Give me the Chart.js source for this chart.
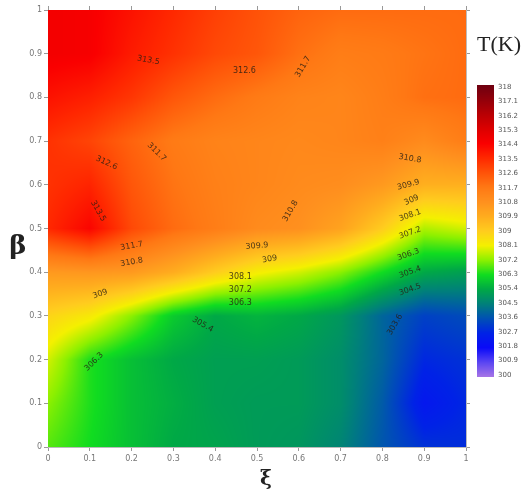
<!DOCTYPE html>
<html>
<head>
<meta charset="utf-8">
<script src="https://cdn.jsdelivr.net/npm/chart.js@4.4.1/dist/chart.umd.min.js"></script>
<style>
  html, body { margin: 0; padding: 0; background: #fff; }
  #wrap { width: 525px; height: 490px; position: relative; }
</style>
</head>
<body>
<div id="wrap"><canvas id="contourChart" width="525" height="490"></canvas></div>
<script>
// grid axes
const xiValues = [0, 0.1, 0.2, 0.3, 0.4, 0.5, 0.6, 0.7, 0.8, 0.9, 1];
const betaValues = [0, 0.1, 0.2, 0.3, 0.4, 0.5, 0.6, 0.7, 0.8, 0.9, 1];

// temperature T(K), one row per beta (beta = 0 first)
const tempRows = [
    [306.8, 306.3, 305.8, 305.4, 305.3, 305.1, 305.0, 304.6, 303.7, 303.0, 302.9],
    [307.2, 306.4, 305.8, 305.5, 305.2, 305.1, 305.1, 304.8, 303.8, 302.3, 302.8],
    [307.8, 306.4, 305.8, 305.4, 305.2, 305.2, 305.1, 304.8, 304.0, 302.8, 303.0],
    [308.8, 308.3, 307.2, 306.0, 305.4, 305.6, 305.4, 305.0, 304.0, 303.3, 303.5],
    [310.5, 310.6, 310.5, 309.9, 309.0, 308.2, 307.8, 307.2, 306.3, 305.4, 305.2],
    [313.5, 314.3, 312.8, 312.0, 311.5, 311.0, 310.8, 310.2, 309.0, 307.5, 307.8],
    [313.3, 313.6, 312.5, 311.8, 311.4, 311.2, 311.0, 310.9, 310.5, 309.8, 309.8],
    [313.3, 312.9, 312.2, 311.6, 311.3, 311.2, 311.1, 311.2, 311.4, 311.0, 311.5],
    [314.0, 313.7, 313.2, 312.5, 312.0, 311.6, 311.3, 311.2, 311.5, 311.9, 312.0],
    [314.6, 314.5, 313.8, 313.3, 312.8, 312.5, 311.9, 311.5, 311.6, 311.8, 312.0],
    [314.6, 314.5, 314.0, 313.5, 313.0, 312.6, 312.2, 312.0, 312.0, 312.0, 312.0]
];

// colour bar
const barTicks = ['318', '317.1', '316.2', '315.3', '314.4', '313.5', '312.6', '311.7', '310.8', '309.9',
    '309', '308.1', '307.2', '306.3', '305.4', '304.5', '303.6', '302.7', '301.8', '300.9', '300'];
const mapValues = [300, 300.9, 301.8, 302.7, 303.6, 304.5, 305.4, 306.3, 307.2, 308.1,
    309, 309.9, 310.8, 311.7, 312.6, 313.5, 314.4, 315.3, 316.2, 317.1, 318];
const mapColors = ['#a775e6', '#5a45f2', '#0a0af8', '#0022e6', '#0050b4', '#00807a', '#00a846', '#10dc20', '#8cf000', '#f4f000',
    '#ffcc1e', '#ffac1e', '#ff901e', '#ff7814', '#ff5208', '#ff2800', '#fa0000', '#dc0000', '#b80004', '#92000a', '#6e0010'];

// contour labels: text, xi, beta, angle
const contourLabels = [
    ['313.5', 0.24, 0.885, 10], ['312.6', 0.47, 0.86, 0], ['311.7', 0.61, 0.87, -60],
    ['311.7', 0.26, 0.675, 45], ['312.6', 0.14, 0.65, 25], ['313.5', 0.12, 0.54, 60],
    ['311.7', 0.2, 0.46, -10], ['310.8', 0.2, 0.423, -10], ['310.8', 0.58, 0.54, -60],
    ['310.8', 0.866, 0.66, 10], ['309.9', 0.862, 0.6, -15], ['309', 0.87, 0.565, -25],
    ['308.1', 0.866, 0.53, -20], ['307.2', 0.866, 0.49, -20], ['306.3', 0.862, 0.44, -20],
    ['305.4', 0.866, 0.4, -20], ['304.5', 0.866, 0.36, -20], ['303.6', 0.83, 0.28, -60],
    ['309.9', 0.5, 0.46, -5], ['309', 0.53, 0.43, -10], ['308.1', 0.46, 0.39, 0],
    ['307.2', 0.46, 0.36, 0], ['306.3', 0.46, 0.33, 0], ['309', 0.125, 0.35, -20],
    ['305.4', 0.37, 0.28, 30], ['306.3', 0.11, 0.195, -45]
];

function hexRgb(h) {
    return [parseInt(h.substr(1, 2), 16), parseInt(h.substr(3, 2), 16), parseInt(h.substr(5, 2), 16)];
}
const mapRgb = mapColors.map(hexRgb);

function colorFor(t) {
    if (t <= mapValues[0]) return mapRgb[0];
    let n = mapValues.length;
    if (t >= mapValues[n - 1]) return mapRgb[n - 1];
    let i = 0;
    while (t > mapValues[i + 1]) i++;
    let f = (t - mapValues[i]) / (mapValues[i + 1] - mapValues[i]);
    let a = mapRgb[i], b = mapRgb[i + 1];
    return [a[0] + (b[0] - a[0]) * f, a[1] + (b[1] - a[1]) * f, a[2] + (b[2] - a[2]) * f];
}

function tempAt(xi, beta) {
    let nx = xiValues.length - 1, ny = betaValues.length - 1;
    let gx = Math.min(Math.max((xi - xiValues[0]) / (xiValues[nx] - xiValues[0]) * nx, 0), nx);
    let gy = Math.min(Math.max((beta - betaValues[0]) / (betaValues[ny] - betaValues[0]) * ny, 0), ny);
    let i = Math.min(Math.floor(gx), nx - 1), j = Math.min(Math.floor(gy), ny - 1);
    let fx = gx - i, fy = gy - j;
    let t00 = tempRows[j][i], t10 = tempRows[j][i + 1];
    let t01 = tempRows[j + 1][i], t11 = tempRows[j + 1][i + 1];
    return (t00 * (1 - fx) + t10 * fx) * (1 - fy) + (t01 * (1 - fx) + t11 * fx) * fy;
}

// the grid nodes as a scatter dataset (the field is painted from them)
let gridPoints = [];
betaValues.forEach(function (b, j) {
    xiValues.forEach(function (x, i) {
        gridPoints.push({x: x, y: b, t: tempRows[j][i]});
    });
});

const fieldPlugin = {
    id: 'field',
    beforeDatasetsDraw: function (chart) {
        let ctx = chart.ctx, area = chart.chartArea;
        let xs = chart.scales.x, ys = chart.scales.y;
        let w = Math.round(area.right - area.left), h = Math.round(area.bottom - area.top);
        let img = ctx.createImageData(w, h);
        for (let py = 0; py < h; py++) {
            let beta = ys.getValueForPixel(area.top + py + 0.5);
            for (let px = 0; px < w; px++) {
                let xi = xs.getValueForPixel(area.left + px + 0.5);
                let c = colorFor(tempAt(xi, beta));
                let k = (py * w + px) * 4;
                img.data[k] = c[0];
                img.data[k + 1] = c[1];
                img.data[k + 2] = c[2];
                img.data[k + 3] = 255;
            }
        }
        ctx.putImageData(img, Math.round(area.left), Math.round(area.top));
    },
    afterDatasetsDraw: function (chart) {
        let ctx = chart.ctx;
        let xs = chart.scales.x, ys = chart.scales.y;
        ctx.save();
        ctx.font = '8px "DejaVu Sans", sans-serif';
        ctx.fillStyle = 'rgba(40,30,20,0.85)';
        ctx.textAlign = 'center';
        ctx.textBaseline = 'middle';
        contourLabels.forEach(function (l) {
            ctx.save();
            ctx.translate(xs.getPixelForValue(l[1]), ys.getPixelForValue(l[2]));
            ctx.rotate(l[3] * Math.PI / 180);
            ctx.fillText(l[0], 0, 0);
            ctx.restore();
        });
        ctx.restore();
    },
    afterDraw: function (chart) {
        let ctx = chart.ctx;
        let top = 85, bottom = 377, left = 477, width = 17;
        let lo = mapValues[0], hi = mapValues[mapValues.length - 1];
        ctx.save();
        for (let py = top; py < bottom; py++) {
            let t = hi - (py + 0.5 - top) / (bottom - top) * (hi - lo);
            let c = colorFor(t);
            ctx.fillStyle = 'rgb(' + Math.round(c[0]) + ',' + Math.round(c[1]) + ',' + Math.round(c[2]) + ')';
            ctx.fillRect(left, py, width, 1);
        }
        ctx.font = '7px "DejaVu Sans", sans-serif';
        ctx.fillStyle = '#555';
        ctx.textAlign = 'left';
        ctx.textBaseline = 'middle';
        barTicks.forEach(function (s, i) {
            let y = top + 2 + i * (bottom - top - 4) / (barTicks.length - 1);
            ctx.fillText(s, left + width + 4, y);
        });
        ctx.font = '22px "Liberation Serif", "DejaVu Serif", serif';
        ctx.fillStyle = '#222';
        ctx.textAlign = 'center';
        ctx.fillText('T(K)', 499, 45);
        // axis titles, upright
        ctx.font = 'bold 26px "DejaVu Serif", serif';
        ctx.fillText('β', 18, 247);
        ctx.font = 'bold 20px "DejaVu Serif", serif';
        ctx.fillText('ξ', 266, 480);
        ctx.restore();
    }
};

let tickFont = {family: '"DejaVu Sans", sans-serif', size: 8};
let tickText = function (v) { return String(Number(v.toFixed(1))); };

let ctxEl = document.getElementById('contourChart');
let contourChart = new Chart(ctxEl, {
    type: 'scatter',
    data: {
        datasets: [{
            label: 'T(K)',
            data: gridPoints,
            pointRadius: 0,
            pointHoverRadius: 0
        }]
    },
    plugins: [fieldPlugin],
    options: {
        responsive: false,
        animation: false,
        events: [],
        layout: {padding: 0},
        plugins: {
            legend: {display: false},
            tooltip: {enabled: false}
        },
        scales: {
            x: {
                type: 'linear',
                position: 'bottom',
                min: 0,
                max: 1,
                ticks: {stepSize: 0.1, color: '#777', font: tickFont, padding: 3, maxRotation: 0, callback: tickText},
                grid: {drawOnChartArea: false, tickLength: 4, color: '#999'},
                border: {color: '#bbb'},
                afterFit: function (s) { s.height = 43; }
            },
            x2: {
                type: 'linear',
                position: 'top',
                min: 0,
                max: 1,
                ticks: {stepSize: 0.1, display: false},
                grid: {drawOnChartArea: false, tickLength: 4, color: '#999'},
                border: {color: '#bbb'},
                afterFit: function (s) { s.height = 10; }
            },
            y: {
                type: 'linear',
                position: 'left',
                min: 0,
                max: 1,
                ticks: {stepSize: 0.1, color: '#777', font: tickFont, padding: 2, callback: tickText},
                grid: {drawOnChartArea: false, tickLength: 4, color: '#999'},
                border: {color: '#bbb'},
                afterFit: function (s) { s.width = 48; }
            },
            y2: {
                type: 'linear',
                position: 'right',
                min: 0,
                max: 1,
                ticks: {stepSize: 0.1, display: false},
                grid: {drawOnChartArea: false, tickLength: 4, color: '#999'},
                border: {color: '#bbb'},
                afterFit: function (s) { s.width = 59; }
            }
        }
    }
});
</script>
</body>
</html>
